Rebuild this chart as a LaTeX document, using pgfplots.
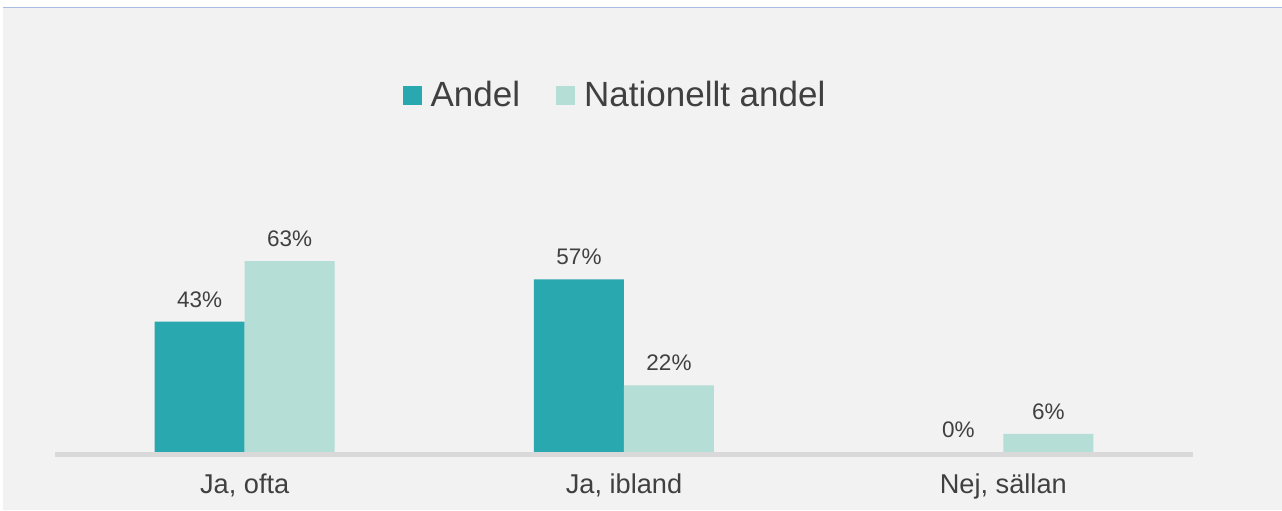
\documentclass[border=0pt]{standalone}
\usepackage{pgfplots}
\pgfplotsset{compat=1.18}
\usepackage{fontspec}
\setmainfont{Liberation Sans}
\definecolor{andel}{HTML}{2AA8AF}
\definecolor{nat}{HTML}{B4DED6}
\definecolor{bg}{HTML}{F2F2F2}
\definecolor{txt}{HTML}{404040}
\definecolor{base}{HTML}{D9D9D9}
\definecolor{topline}{HTML}{A9BDE3}
\begin{document}
\begin{tikzpicture}
\useasboundingbox (0,0) rectangle (641pt,255pt);
\fill[white] (0,0) rectangle (641pt,255pt);
\fill[bg] (1.5pt,0) rectangle (641pt,251pt);
\draw[topline, line width=0.8pt] (1.5pt,251.3pt) -- (641pt,251.3pt);
\begin{axis}[
  at={(27.5pt,29pt)}, anchor=south west,
  scale only axis, width=569pt, height=151.5pt,
  xmin=-0.5, xmax=2.5, ymin=0, ymax=100,
  ybar=0pt, bar width=45pt,
  /pgf/number format/assume math mode=true,
  axis on top,
  axis x line*=bottom, axis y line=none,
  x axis line style={draw=base, line width=2.5pt, -, yshift=-1.0pt},
  xtick={0,1,2},
  xticklabels={{Ja, ofta},{Ja, ibland},{Nej, sällan}},
  major tick length=0pt,
  xticklabel style={font=\fontsize{13.6}{16}\selectfont, text=txt, yshift=-7.5pt},
  nodes near coords={\pgfmathprintnumber{\pgfplotspointmeta}\%},
  every node near coord/.append style={font=\fontsize{11.25}{13}\selectfont, text=txt, inner sep=0pt, yshift=7pt},
  legend style={at={(0.493,1.178)}, anchor=center, draw=none, fill=none, legend columns=2,
    font=\fontsize{17.5}{20}\selectfont, text=txt,
    /tikz/every odd column/.append style={column sep=2.5pt},
    /tikz/every even column/.append style={column sep=16pt}},
  legend image code/.code={\fill[#1] (0pt,-4.75pt) rectangle (9.5pt,4.75pt);},
  clip=false,
]
\addplot[fill=andel, draw=none] coordinates {(0,43) (1,57) (2,0)};
\addplot[fill=nat, draw=none] coordinates {(0,63) (1,22) (2,6)};
\legend{Andel, Nationellt andel}
\end{axis}
\end{tikzpicture}
\end{document}
